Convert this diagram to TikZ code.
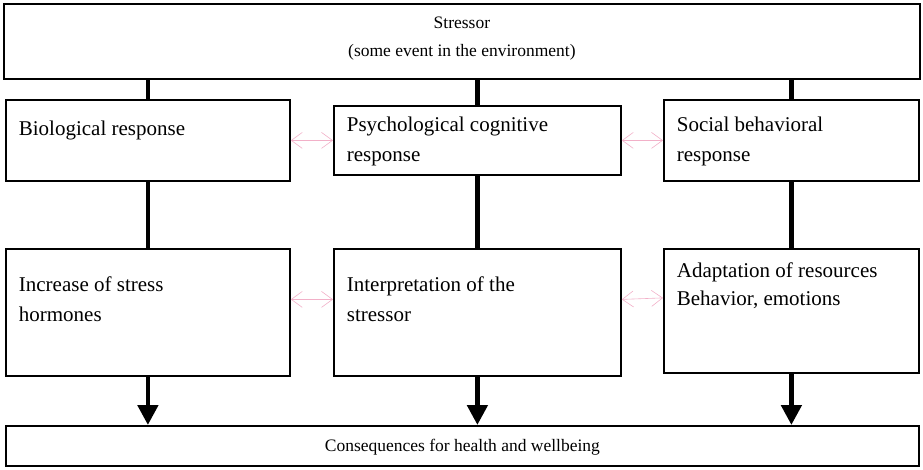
\documentclass[tikz,border=0pt]{standalone}
\usepackage{fontspec}
\setmainfont{Liberation Serif}
\usetikzlibrary{arrows.meta,positioning}
\definecolor{lnpink}{RGB}{242,176,200}
% box text: width, height, top gap, text
\newcommand{\bxt}[4]{\parbox[t][#2][t]{#1}{\vspace*{#3}#4}}
\newcommand{\bxc}[4]{\parbox[t][#2][t]{#1}{\centering\vspace*{#3}#4}}

\begin{document}
\begin{tikzpicture}[x=1pt, y=-1pt,
  bx/.style={draw, line width=1.8pt, anchor=north west, inner xsep=13pt, inner ysep=10pt, font=\fontsize{21}{30}\selectfont},
  wide/.style={draw, line width=1.8pt, anchor=north west, inner sep=0pt, font=\fontsize{17.5}{28}\selectfont},
  vln/.style={line width=4.8pt},
  varr/.style={line width=4.8pt, -{Triangle[width=20pt,length=20pt]}},
  pk/.style={lnpink, line width=0.6pt, {Straight Barb[width=16pt,length=11pt]}-{Straight Barb[width=16pt,length=11pt]}}]
\useasboundingbox (0,0) rectangle (923,469);
% Stressor
\node[wide] (str) at (3,3) {\bxc{916pt}{75pt}{13.5pt}{Stressor\\(some event in the environment)}};
% First row
\node[bx] (bio) at (5,99) {\bxt{258pt}{61pt}{10.6pt}{Biological response}};
\node[bx] (psy) at (333,105) {\bxt{261pt}{49pt}{0.6pt}{Psychological cognitive\\response}};
\node[bx] (soc) at (663,99) {\bxt{229pt}{61pt}{6.6pt}{Social behavioral\\response}};
% Second row
\node[bx] (inc) at (5,248) {\bxt{258pt}{107pt}{17.6pt}{Increase of stress\\hormones}};
\node[bx] (int) at (333,248) {\bxt{261pt}{107pt}{17.6pt}{Interpretation of the\\stressor}};
\node[bx] (ada) at (663,248) {\bxt{229pt}{104pt}{4pt}{Adaptation of resources\\[-2pt]Behavior, emotions}};
% Consequences
\node[wide] (con) at (5,425) {\bxc{913pt}{40pt}{13.5pt}{Consequences for health and wellbeing}};
% Stems
\draw[vln] (str.south -| bio.north) -- (bio.north);
\draw[vln] (str.south -| psy.north) -- (psy.north);
\draw[vln] (str.south -| soc.north) -- (soc.north);
\draw[vln] (bio.south) -- (inc.north);
\draw[vln] (psy.south) -- (int.north);
\draw[vln] (soc.south) -- (ada.north);
\draw[varr] (inc.south) -- (inc.south |- con.north);
\draw[varr] (int.south) -- (int.south |- con.north);
\draw[varr] (ada.south) -- (ada.south |- con.north);
% Links
\draw[pk] (bio.east) -- (psy.west);
\draw[pk] (psy.east) -- (psy.east -| soc.west);
\draw[pk] ([yshift=13pt]inc.east) -- ([yshift=13pt]int.west);
\draw[pk] ([yshift=13pt]int.east) -- ([yshift=13pt]ada.west);
\end{tikzpicture}
\end{document}
